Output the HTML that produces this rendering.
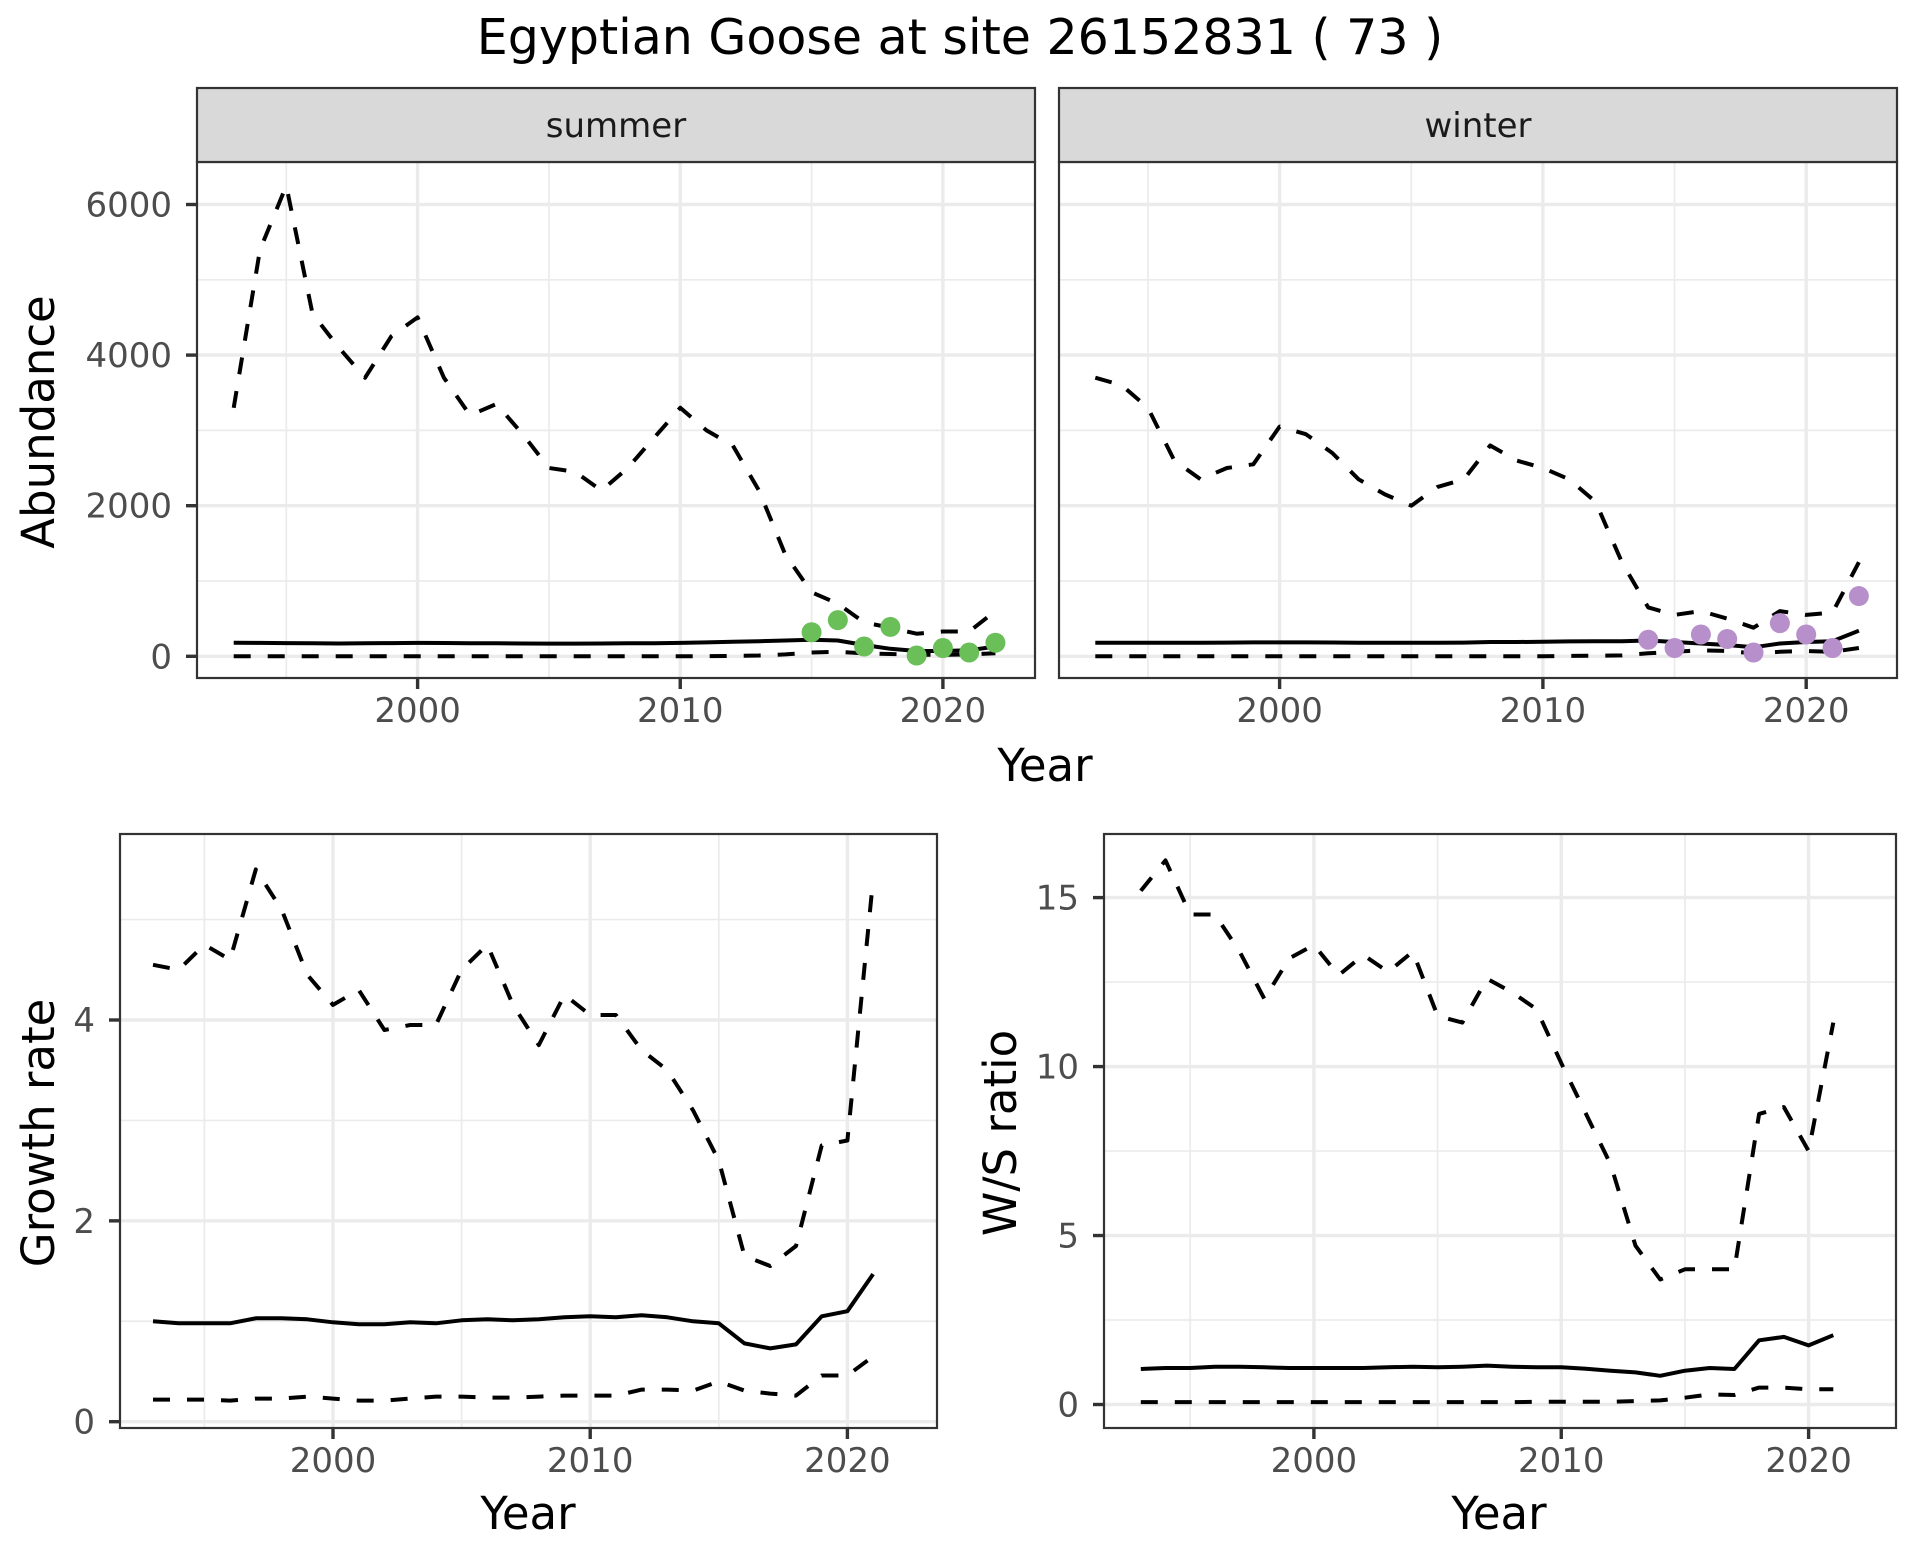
<!DOCTYPE html>
<html><head><meta charset="utf-8"><style>
body{margin:0;background:#fff;}
svg{display:block;font-family:"DejaVu Sans","Liberation Sans",sans-serif;}
</style></head><body>
<svg id="c" width="1920" height="1560" viewBox="0 0 1920 1560" xmlns="http://www.w3.org/2000/svg">
<text x="960" y="54" text-anchor="middle" font-size="49" fill="#000">Egyptian Goose at site 26152831 ( 73 )</text>
</svg>
<script>
const yearsTop = [1993,1994,1995,1996,1997,1998,1999,2000,2001,2002,2003,2004,2005,2006,2007,2008,2009,2010,2011,2012,2013,2014,2015,2016,2017,2018,2019,2020,2021,2022];
const summerUpper = [3300,5400,6250,4550,4100,3700,4250,4500,3700,3200,3350,2950,2500,2450,2200,2500,2900,3300,3000,2800,2200,1350,850,700,450,380,300,330,330,600];
const summerMean = [180,178,175,172,170,172,175,178,176,174,172,170,168,168,170,172,174,178,185,192,200,210,220,210,150,100,70,70,80,130];
const summerLower = [0,0,0,0,0,0,0,0,0,0,0,0,0,0,0,0,0,0,2,5,10,25,50,60,40,30,20,20,25,40];
const summerPtYears = [2015,2016,2017,2018,2019,2020,2021,2022];
const summerPts = [320,480,130,390,10,110,50,180];
const winterUpper = [3700,3600,3300,2600,2350,2500,2550,3050,2950,2700,2350,2150,2000,2250,2350,2800,2600,2500,2350,2050,1250,650,550,600,500,380,600,550,580,1250];
const winterMean = [180,180,180,180,180,182,184,185,185,183,180,180,180,180,182,190,190,192,198,200,200,210,190,170,150,120,170,190,200,340];
const winterLower = [0,0,0,0,0,0,0,0,0,0,0,0,0,0,0,0,0,0,5,8,12,40,60,80,70,40,60,70,60,110];
const winterPtYears = [2014,2015,2016,2017,2018,2019,2020,2021,2022];
const winterPts = [220,110,290,230,50,440,290,110,800];
const yearsBot = [1993,1994,1995,1996,1997,1998,1999,2000,2001,2002,2003,2004,2005,2006,2007,2008,2009,2010,2011,2012,2013,2014,2015,2016,2017,2018,2019,2020,2021];
const growthUpper = [4.55,4.5,4.75,4.6,5.5,5.1,4.45,4.15,4.3,3.9,3.95,3.95,4.5,4.75,4.15,3.75,4.25,4.05,4.05,3.7,3.5,3.1,2.6,1.65,1.55,1.75,2.75,2.8,5.4];
const growthMean = [1.0,0.98,0.98,0.98,1.03,1.03,1.02,0.99,0.97,0.97,0.99,0.98,1.01,1.02,1.01,1.02,1.04,1.05,1.04,1.06,1.04,1.0,0.98,0.78,0.73,0.77,1.05,1.1,1.47];
const growthLower = [0.22,0.22,0.22,0.21,0.23,0.23,0.25,0.23,0.21,0.21,0.23,0.25,0.25,0.24,0.24,0.25,0.26,0.26,0.26,0.32,0.32,0.31,0.4,0.31,0.28,0.26,0.46,0.46,0.65];
const ratioUpper = [15.2,16.1,14.5,14.5,13.4,12.0,13.2,13.6,12.7,13.3,12.8,13.4,11.5,11.3,12.6,12.2,11.7,10.1,8.6,7.1,4.7,3.7,4.0,4.0,4.0,8.6,8.8,7.5,11.3];
const ratioMean = [1.05,1.08,1.08,1.12,1.12,1.1,1.08,1.08,1.08,1.08,1.1,1.12,1.1,1.12,1.15,1.12,1.1,1.1,1.06,1.0,0.95,0.85,1.0,1.08,1.05,1.9,2.0,1.75,2.05];
const ratioLower = [0.07,0.07,0.07,0.07,0.07,0.07,0.07,0.07,0.07,0.07,0.07,0.07,0.07,0.07,0.07,0.07,0.08,0.08,0.08,0.08,0.1,0.12,0.2,0.3,0.28,0.5,0.5,0.45,0.45];
const topYTicks = [0,2000,4000,6000];
const growthYTicks = [0,2,4];
const ratioYTicks = [0,5,10,15];
const xTicks = [2000,2010,2020];

const svg = document.getElementById('c');
const NS = 'http://www.w3.org/2000/svg';
function mk(tag, attrs, parent){const e=document.createElementNS(NS,tag);for(const k in attrs)e.setAttribute(k,attrs[k]);(parent||svg).appendChild(e);return e;}

function panel(o){
  const g = mk('g',{});
  
  
  mk('rect',{x:o.x0,y:o.y0,width:o.x1-o.x0,height:o.y1-o.y0,fill:'#fff'},g);
  o.yMinor.forEach(v=>{const y=o.ys(v);if(y>o.y0&&y<o.y1){const l=mk('line',{x1:o.x0,x2:o.x1,y1:y,y2:y,stroke:'#EBEBEB','stroke-width':1.7},g);}});
  o.xMinor.forEach(v=>{const x=o.xs(v);const l=mk('line',{x1:x,x2:x,y1:o.y0,y2:o.y1,stroke:'#EBEBEB','stroke-width':1.7},g);});
  o.yTicks.forEach(v=>{const y=o.ys(v);const l=mk('line',{x1:o.x0,x2:o.x1,y1:y,y2:y,stroke:'#EBEBEB','stroke-width':3.4},g);});
  xTicks.forEach(v=>{const x=o.xs(v);const l=mk('line',{x1:x,x2:x,y1:o.y0,y2:o.y1,stroke:'#EBEBEB','stroke-width':3.4},g);});
  const series = [[o.upper,'17,17'],[o.lower,'17,17'],[o.mean,null]];
  series.forEach(([vals,dash],i)=>{
    const d = vals.map((v,j)=>(j?'L':'M')+o.xs(o.years[j]).toFixed(1)+','+o.ys(v).toFixed(1)).join('');
    const a={d:d,fill:'none',stroke:'#000','stroke-width':4,'stroke-linejoin':'round'};
    if(dash)a['stroke-dasharray']=dash;
    const p=mk('path',a,g);
    
    
  });
  if(o.pts){o.pts.forEach((v,j)=>{const c=mk('circle',{cx:o.xs(o.ptYears[j]),cy:o.ys(v),r:10,fill:o.ptColor},g);});}
  mk('rect',{x:o.x0,y:o.y0,width:o.x1-o.x0,height:o.y1-o.y0,fill:'none',stroke:'#333','stroke-width':2.2},g);
  if(o.yLabels){
    o.yTicks.forEach(v=>{const y=o.ys(v);
      mk('line',{x1:o.x0-11,x2:o.x0,y1:y,y2:y,stroke:'#333','stroke-width':3.4},g);
      const t=mk('text',{x:o.x0-25,y:y+12,'text-anchor':'end','font-size':34,fill:'#4D4D4D'},g);t.textContent=v;
      });
  }
  xTicks.forEach(v=>{const x=o.xs(v);
    mk('line',{x1:x,x2:x,y1:o.y1,y2:o.y1+11,stroke:'#333','stroke-width':3.4},g);
    const t=mk('text',{x:x,y:o.y1+44,'text-anchor':'middle','font-size':34,fill:'#4D4D4D'},g);t.textContent=v;
    });
  if(o.strip){
    const s=mk('rect',{x:o.x0,y:o.y0-74,width:o.x1-o.x0,height:74,fill:'#D9D9D9',stroke:'#333','stroke-width':2.2},g);
    
    const t=mk('text',{x:(o.x0+o.x1)/2,y:o.y0-25,'text-anchor':'middle','font-size':34,fill:'#1A1A1A'},g);t.textContent=o.strip;
    
  }
}
function lin(d0,d1,r0,r1){return v=>r0+(v-d0)*(r1-r0)/(d1-d0);}

const topY = lin(0,6000,656.3,204.5);
panel({name:'summer-panel',x0:197,x1:1035,y0:162,y1:678,xs:lin(2000,2020,417.6,942.9),ys:topY,yTicks:topYTicks,yMinor:[1000,3000,5000],xMinor:[1995,2005,2015],
  years:yearsTop,upper:summerUpper,mean:summerMean,lower:summerLower,pts:summerPts,ptYears:summerPtYears,ptColor:'#6ABF59',yLabels:true,strip:'summer'});
panel({name:'winter-panel',x0:1059,x1:1897,y0:162,y1:678,xs:lin(2000,2020,1279.6,1806.2),ys:topY,yTicks:topYTicks,yMinor:[1000,3000,5000],xMinor:[1995,2005,2015],
  years:yearsTop,upper:winterUpper,mean:winterMean,lower:winterLower,pts:winterPts,ptYears:winterPtYears,ptColor:'#B78FCB',yLabels:false,strip:'winter'});
panel({name:'growth-rate-panel',x0:120,x1:937,y0:834,y1:1428,xs:lin(2000,2020,333,847.4),ys:lin(0,4,1421.7,1020),yTicks:growthYTicks,yMinor:[1,3,5],xMinor:[1995,2005,2015],
  years:yearsBot,upper:growthUpper,mean:growthMean,lower:growthLower,yLabels:true});
panel({name:'ws-ratio-panel',x0:1104,x1:1896,y0:834,y1:1428,xs:lin(2000,2020,1313.9,1808.6),ys:lin(0,15,1404.5,897.6),yTicks:ratioYTicks,yMinor:[2.5,7.5,12.5],xMinor:[1995,2005,2015],
  years:yearsBot,upper:ratioUpper,mean:ratioMean,lower:ratioLower,yLabels:true});

function label(txt,x,y,rot,name){
  const t=mk('text',{x:x,y:y,'text-anchor':'middle','font-size':45,fill:'#000'});
  if(rot)t.setAttribute('transform','rotate(-90 '+x+' '+y+')');
  t.textContent=txt;
  
}
label('Year',1045,781,false,'top-x-axis-title');
label('Abundance',54,422,true,'top-y-axis-title');
label('Year',528,1529,false,'growth-x-axis-title');
label('Growth rate',54,1133,true,'growth-y-axis-title');
label('Year',1499,1529,false,'ratio-x-axis-title');
label('W/S ratio',1016,1133,true,'ratio-y-axis-title');
</script>
</body></html>
